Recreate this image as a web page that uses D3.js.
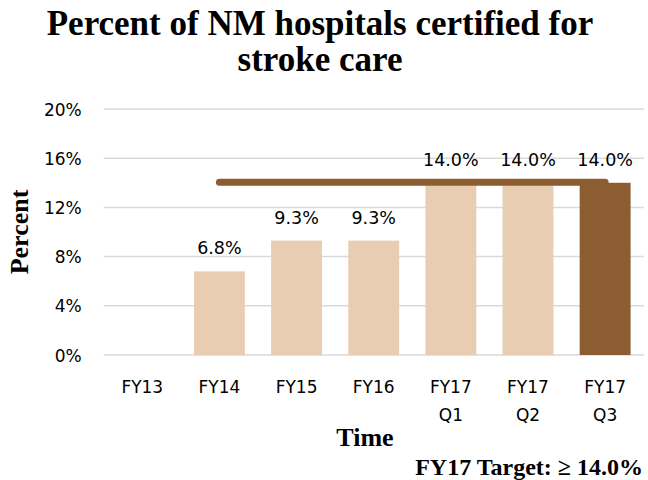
<!DOCTYPE html>
<html>
<head>
<meta charset="utf-8">
<script src="https://cdn.jsdelivr.net/npm/d3@7"></script>
<style>
  html, body { margin: 0; padding: 0; background: #fff; }
  svg { display: block; }
</style>
</head>
<body>
<svg id="chart" width="648" height="480"></svg>
<script>
const categories = [["FY13"], ["FY14"], ["FY15"], ["FY16"], ["FY17", "Q1"], ["FY17", "Q2"], ["FY17", "Q3"]];
const values = [null, 6.8, 9.3, 9.3, 14.0, 14.0, 14.0];
const highlight = [false, false, false, false, false, false, true];
const yTicks = [0, 4, 8, 12, 16, 20];
const target = 14.0;
const targetFrom = 1, targetTo = 6;
const titleLines = ["Percent of NM hospitals certified for", "stroke care"];

const svg = d3.select("#chart");
const plotLeft = 103.7, plotRight = 643.7, plotTop = 109, plotBottom = 355;
const keys = categories.map((c, i) => i);

const x = d3.scaleBand().domain(keys).range([plotLeft, plotRight]).paddingInner(0.34).paddingOuter(0.17);
const y = d3.scaleLinear().domain([0, 20]).range([plotBottom, plotTop]);

const serif = "'Liberation Serif', 'Times New Roman', serif";
const sans = "'DejaVu Sans', sans-serif";

// Title
svg.append("g").selectAll("text").data(titleLines).join("text")
  .attr("x", 320).attr("y", (d, i) => 35 + i * 36)
  .attr("text-anchor", "middle")
  .attr("font-family", serif).attr("font-weight", "bold").attr("font-size", 35)
  .attr("fill", "#000").text(d => d);

// Gridlines
svg.append("g").selectAll("line").data(yTicks).join("line")
  .attr("x1", plotLeft).attr("x2", plotRight)
  .attr("y1", d => y(d)).attr("y2", d => y(d))
  .attr("stroke", "#D9D9D9").attr("stroke-width", 1.5);

// Y axis
const yAxis = d3.axisLeft(y).tickValues(yTicks).tickFormat(d => d + "%").tickSize(0).tickPadding(0);
const gy = svg.append("g").attr("transform", `translate(${plotLeft - 22},0)`).call(yAxis);
gy.select(".domain").remove();
gy.selectAll("text").attr("font-family", sans).attr("font-size", 17).attr("fill", "#000").attr("dy", "0.36em");

// Bars
svg.append("g").selectAll("rect").data(keys.filter(i => values[i] != null)).join("rect")
  .attr("x", i => x(i)).attr("width", x.bandwidth())
  .attr("y", i => y(values[i])).attr("height", i => y(0) - y(values[i]))
  .attr("fill", i => highlight[i] ? "#8C5D31" : "#E8CDB3");

// Target line
svg.append("line")
  .attr("x1", x(targetFrom) + x.bandwidth() / 2).attr("x2", x(targetTo) + x.bandwidth() / 2)
  .attr("y1", y(target) - 0.5).attr("y2", y(target) - 0.5)
  .attr("stroke", "#8C5D31").attr("stroke-width", 7).attr("stroke-linecap", "round");

// Data labels
svg.append("g").selectAll("text").data(keys.filter(i => values[i] != null)).join("text")
  .attr("x", i => x(i) + x.bandwidth() / 2).attr("y", i => y(values[i]) - 17)
  .attr("text-anchor", "middle")
  .attr("font-family", sans).attr("font-size", 17.5).attr("fill", "#000")
  .text(i => values[i].toFixed(1) + "%");

// X axis labels
const xAxis = d3.axisBottom(x).tickSize(0).tickFormat(() => "");
const gx = svg.append("g").attr("transform", `translate(0,${plotBottom})`).call(xAxis);
gx.select(".domain").remove();
gx.selectAll(".tick").each(function(i) {
  const t = d3.select(this).append("text")
    .attr("text-anchor", "middle")
    .attr("font-family", sans).attr("font-size", 17).attr("fill", "#000");
  categories[i].forEach((line, j) => {
    t.append("tspan").attr("x", 0).attr("y", 38 + j * 28).text(line);
  });
});

// Axis titles
svg.append("text")
  .attr("transform", `translate(28,${232}) rotate(-90)`)
  .attr("text-anchor", "middle")
  .attr("font-family", serif).attr("font-weight", "bold").attr("font-size", 26)
  .text("Percent");

svg.append("text")
  .attr("x", 365).attr("y", 446).attr("text-anchor", "middle")
  .attr("font-family", serif).attr("font-weight", "bold").attr("font-size", 26)
  .text("Time");

svg.append("text")
  .attr("x", 643).attr("y", 475).attr("text-anchor", "end")
  .attr("font-family", serif).attr("font-weight", "bold").attr("font-size", 24)
  .text("FY17 Target: \u2265 14.0%");
</script>
</body>
</html>
